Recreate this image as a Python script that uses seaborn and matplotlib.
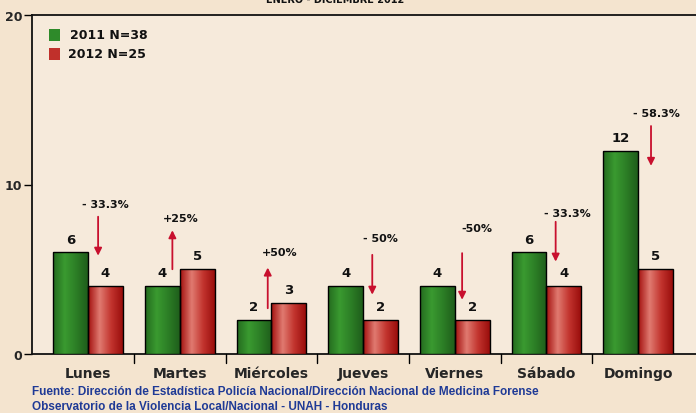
import numpy as np
import pandas as pd
import matplotlib
matplotlib.use("Agg")
import matplotlib.pyplot as plt
from matplotlib.colors import LinearSegmentedColormap
from matplotlib.patches import Rectangle
import seaborn as sns

dias = ["Lunes", "Martes", "Miércoles", "Jueves", "Viernes", "Sábado", "Domingo"]
v2011 = [6, 4, 2, 4, 4, 6, 12]
v2012 = [4, 5, 3, 2, 2, 4, 5]
series = ["2011 N=38", "2012 N=25"]
cambios = ["- 33.3%", "+25%", "+50%", "- 50%", "-50%", "- 33.3%", "- 58.3%"]
# arrow start / end (data units) and label heights
flecha_ini = [8.1, 5.0, 2.7, 5.85, 5.95, 7.8, 13.45]
flecha_fin = [5.8, 7.3, 5.1, 3.5, 3.2, 5.45, 11.1]
texto_y = [8.85, 8.0, 6.0, 6.85, 7.45, 8.3, 14.2]
flecha_dx = [0.11, -0.08, -0.04, 0.10, 0.08, 0.10, 0.14]
texto_dx = [0.19, 0.01, 0.09, 0.19, 0.24, 0.23, 0.20]

df = pd.DataFrame({
    "dia": dias * 2,
    "valor": v2011 + v2012,
    "serie": [series[0]] * 7 + [series[1]] * 7,
})

bg = "#F4E4CF"
sns.set_theme(style="white")
plt.rcParams["font.family"] = ["DejaVu Sans"]

fig = plt.figure(figsize=(6.96, 4.14), dpi=100, facecolor=bg)
ax = fig.add_axes([32 / 696, 1 - 355 / 414, (703 - 32) / 696, (355 - 16) / 414])
ax.set_facecolor("#F6EADB")

green, red = "#2E8A2A", "#C0302B"
sns.barplot(data=df, x="dia", y="valor", hue="serie", order=dias,
            hue_order=series, palette=[green, red], width=0.76,
            edgecolor="black", linewidth=1.0, ax=ax, legend=False)

cm_g = LinearSegmentedColormap.from_list("g", ["#246B1F", "#3A9A30", "#2C7E26", "#1F5E1B"])
cm_r = LinearSegmentedColormap.from_list("r", ["#A3100E", "#E07A70", "#C2342E", "#9A0E0C"])
grad = np.linspace(0, 1, 64).reshape(1, -1)
bars = [p for p in ax.patches if p.get_height() > 0]
for p in bars:
    x0, y0, w, h = p.get_x(), p.get_y(), p.get_width(), p.get_height()
    center = x0 + w / 2
    cmap = cm_g if center < round(center) else cm_r
    im = ax.imshow(grad, cmap=cmap, aspect="auto", extent=(x0, x0 + w, y0, y0 + h),
                   zorder=2.9, interpolation="bilinear")
    im.set_clip_path(p)
    p.set_facecolor("none")
    p.set_zorder(3)
    ax.text(center, h + 0.4, str(int(round(h))), ha="center", va="bottom",
            fontsize=9.5, fontweight="bold", color="#111111")

for i in range(7):
    xa = i + flecha_dx[i]
    ax.annotate("", xy=(xa, flecha_fin[i]), xytext=(xa, flecha_ini[i]),
                arrowprops=dict(arrowstyle="-|>", color="#C8102E", lw=1.3,
                                mutation_scale=11, shrinkA=0, shrinkB=0), zorder=5)
    ax.text(i + texto_dx[i], texto_y[i], cambios[i], ha="center", va="center",
            fontsize=8, fontweight="bold", color="#111111")

ax.set_xlim(-0.611, 6.707)
ax.set_ylim(0, 20)
ax.set_yticks([0, 10, 20])
ax.set_yticklabels(["0", "10", "20"], fontsize=9, fontweight="bold")
ax.set_xticks(range(7))
ax.set_xticklabels(dias, fontsize=10, fontweight="bold")
ax.tick_params(axis="x", length=0, pad=9)
ax.tick_params(axis="y", direction="out", length=6, width=1, color="black", pad=1, left=True)
for b in np.arange(0.5, 6.5, 1.0):
    ax.plot([b, b], [0, -0.55], color="black", lw=1, clip_on=False, zorder=6)
ax.set_xlabel("")
ax.set_ylabel("")
for s in ["left", "top", "bottom"]:
    ax.spines[s].set_color("#111111")
    ax.spines[s].set_linewidth(1.3)
ax.spines["right"].set_visible(False)

# legend
for k, lab in enumerate(series):
    yy = 36 + k * 19
    fx, fy = 49 / 696, 1 - (yy + 6) / 414
    rect = Rectangle((fx, fy), 11 / 696, 12 / 414, transform=fig.transFigure,
                     facecolor=[green, red][k], edgecolor="none", zorder=10)
    fig.add_artist(rect)
    fig.text((70 if k == 0 else 68) / 696, 1 - yy / 414, lab, fontsize=9,
             fontweight="bold", va="center", ha="left", color="#111111")

fig.text(335 / 696, 1 - 0 / 414, "ENERO - DICIEMBRE 2012", fontsize=7,
         fontweight="bold", ha="center", va="center", color="#111111")

foot = ["Liberation Sans Narrow", "Liberation Sans", "DejaVu Sans"]
fig.text(32 / 696, 1 - 392 / 414,
         "Fuente: Dirección de Estadística Policía Nacional/Dirección Nacional de Medicina Forense",
         fontsize=8.5, fontweight="bold", color="#1F3A96", family=foot, va="center")
fig.text(32 / 696, 1 - 407 / 414,
         "Observatorio de la Violencia Local/Nacional - UNAH - Honduras",
         fontsize=8.5, fontweight="bold", color="#1F3A96", family=foot, va="center")

fig.savefig("out.png", dpi=100, facecolor=bg)
